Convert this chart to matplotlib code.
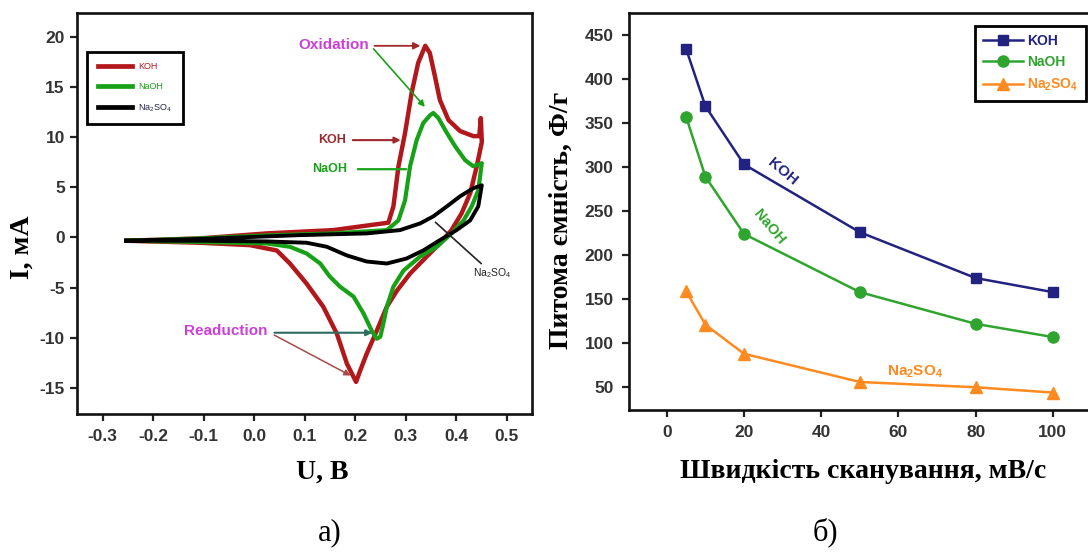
import matplotlib
matplotlib.use("Agg")
import matplotlib.pyplot as plt

plt.rcParams['axes.unicode_minus'] = False
plt.rcParams['mathtext.default'] = 'regular'
plt.rcParams['font.family'] = ['Liberation Sans', 'DejaVu Sans']

# ---------------- data: panel a) cyclic voltammetry ----------------
u_koh = [-0.253, -0.107, 0.025, 0.157, 0.266, 0.276, 0.286, 0.299, 0.312, 0.325, 0.339, 0.348,
         0.358, 0.368, 0.385, 0.408, 0.434, 0.446, 0.449, 0.451, 0.441, 0.428, 0.411, 0.391,
         0.368, 0.342, 0.309, 0.283, 0.263, 0.243, 0.223, 0.210, 0.202, 0.184, 0.164, 0.137,
         0.104, 0.071, 0.045, -0.008, -0.107, -0.253]
i_koh = [-0.33, -0.1, 0.4, 0.73, 1.47, 3.1, 7.1, 10.4, 14.4, 17.4, 19.1, 18.4,
         16.1, 13.7, 11.7, 10.6, 10.1, 10.1, 11.9, 9.5, 7.1, 4.4, 2.4, 0.73,
         -0.6, -1.9, -3.6, -5.3, -6.9, -9.3, -11.6, -13.3, -14.4, -12.6, -9.6, -6.9,
         -4.6, -2.6, -1.3, -0.77, -0.53, -0.33]

u_naoh = [-0.253, -0.107, 0.025, 0.157, 0.263, 0.286, 0.299, 0.309, 0.322, 0.335, 0.349, 0.355,
          0.365, 0.382, 0.398, 0.418, 0.434, 0.451, 0.444, 0.431, 0.415, 0.391, 0.362, 0.329,
          0.296, 0.276, 0.263, 0.256, 0.250, 0.243, 0.233, 0.217, 0.197, 0.170, 0.150, 0.131,
          0.104, 0.071, 0.025, -0.107, -0.253]
i_naoh = [-0.33, -0.1, 0.2, 0.4, 0.73, 1.7, 3.7, 7.1, 9.7, 11.4, 12.2, 12.4,
          11.9, 10.4, 9.1, 7.7, 7.1, 7.4, 4.7, 3.1, 1.7, 0.4, -0.93, -1.9,
          -3.3, -4.9, -6.9, -8.6, -9.9, -10.1, -9.3, -7.6, -5.9, -4.9, -3.9, -2.6,
          -1.6, -0.93, -0.6, -0.45, -0.33]

u_na2so4 = [-0.253, -0.107, 0.091, 0.223, 0.289, 0.329, 0.355, 0.382, 0.408, 0.434, 0.451,
            0.444, 0.428, 0.401, 0.368, 0.335, 0.302, 0.263, 0.223, 0.184, 0.144, 0.104,
            0.025, -0.107, -0.253]
i_na2so4 = [-0.33, -0.15, 0.23, 0.4, 0.73, 1.4, 2.1, 3.1, 4.1, 4.9, 5.2,
            3.1, 1.7, 0.73, -0.27, -1.3, -2.1, -2.6, -2.4, -1.8, -0.93, -0.53,
            -0.4, -0.33, -0.33]

cv_labels = ['KOH', 'NaOH', 'Na$_2$SO$_4$']
cv_xticks = [-0.3, -0.2, -0.1, 0.0, 0.1, 0.2, 0.3, 0.4, 0.5]
cv_yticks = [-15, -10, -5, 0, 5, 10, 15, 20]

# ---------------- data: panel б) specific capacitance ----------------
scan_rate = [5, 10, 20, 50, 80, 100]
cap_koh = [434, 369, 303, 226, 174, 158]
cap_naoh = [357, 289, 224, 158, 122, 107]
cap_na2so4 = [159, 121, 88, 56, 50, 44]
sc_xticks = [0, 20, 40, 60, 80, 100]
sc_yticks = [50, 100, 150, 200, 250, 300, 350, 400, 450]

# ---------------- figure ----------------
W, H = 1088, 553
fig = plt.figure(figsize=(W / 100, H / 100), dpi=100)

def px_axes(l, t, r, b):
    return fig.add_axes([l / W, 1 - b / H, (r - l) / W, (b - t) / H])

red = '#B2171B'
green = '#17A117'
tick_col = '#333333'

def style_axes(ax):
    for s in ax.spines.values():
        s.set_linewidth(1.9)
        s.set_color('#111111')
    ax.tick_params(direction='out', length=5, width=1.6, color='#222222',
                   labelsize=12.5, labelcolor=tick_col)
    for lab in ax.get_xticklabels() + ax.get_yticklabels():
        lab.set_fontweight('bold')

# ---- panel a ----
ax1 = px_axes(77.3, 12.7, 531.8, 414)
ax1.plot(u_koh, i_koh, color=red, lw=3.2, solid_joinstyle='round', label=cv_labels[0])
ax1.plot(u_naoh, i_naoh, color=green, lw=3.0, solid_joinstyle='round', label=cv_labels[1])
ax1.plot(u_na2so4, i_na2so4, color='black', lw=2.8, solid_joinstyle='round', label=cv_labels[2])
ax1.set_xlim(-0.35, 0.55)
ax1.set_ylim(-17.6, 22.4)
ax1.set_xticks(cv_xticks)
ax1.set_xticklabels([f'{v:.1f}' for v in cv_xticks])
ax1.set_yticks(cv_yticks)
ax1.tick_params(axis='y', pad=4)
ax1.tick_params(axis='x', pad=6)
style_axes(ax1)

leg1 = ax1.legend(loc='upper left', bbox_to_anchor=(0.022, 0.903), borderaxespad=0,
                  fontsize=6.5, handlelength=3.8, handletextpad=0.6, labelspacing=1.2,
                  borderpad=1.2, fancybox=False, edgecolor='black', framealpha=1,
                  labelcolor=[red, green, '#222244'])
leg1.get_frame().set_linewidth(2.0)
for ln in leg1.get_lines():
    ln.set_linewidth(3.4)

magenta = '#CC3FD9'
dred = '#A0282C'
ax1.text(0.158, 19.2, 'Oxidation', color=magenta, fontsize=11, fontweight='bold',
         ha='center', va='center')
ax1.annotate('', xy=(0.335, 19.1), xytext=(0.233, 19.1),
             arrowprops=dict(arrowstyle='-|>', color=dred, lw=1.3, mutation_scale=10))
ax1.annotate('', xy=(0.342, 12.8), xytext=(0.233, 19.0),
             arrowprops=dict(arrowstyle='-|>', color=green, lw=1.2, mutation_scale=9))
ax1.text(0.155, 9.7, 'KOH', color=dred, fontsize=9, fontweight='bold', ha='center', va='center')
ax1.annotate('', xy=(0.296, 9.7), xytext=(0.19, 9.7),
             arrowprops=dict(arrowstyle='-|>', color=dred, lw=1.5, mutation_scale=9))
ax1.text(0.150, 6.8, 'NaOH', color=green, fontsize=9, fontweight='bold', ha='center', va='center')
ax1.annotate('', xy=(0.307, 6.8), xytext=(0.20, 6.8),
             arrowprops=dict(arrowstyle='-', color=green, lw=1.6))
ax1.text(-0.056, -9.3, 'Readuction', color=magenta, fontsize=11, fontweight='bold',
         ha='center', va='center')
ax1.annotate('', xy=(0.240, -9.5), xytext=(0.035, -9.5),
             arrowprops=dict(arrowstyle='-|>', color='#2E6B5E', lw=1.5, mutation_scale=9))
ax1.annotate('', xy=(0.196, -13.9), xytext=(0.035, -9.6),
             arrowprops=dict(arrowstyle='-|>', color='#A84A4A', lw=1.1, mutation_scale=9))
ax1.annotate('', xy=(0.355, 1.7), xytext=(0.454, -2.8),
             arrowprops=dict(arrowstyle='-', color='#222222', lw=1.2))
ax1.text(0.471, -3.6, 'Na$_2$SO$_4$', color='#222222', fontsize=7.5, ha='center', va='center')

# ---- panel б ----
navy = '#222280'
sgreen = '#2FA52F'
orange = '#FF8A1F'
ax2 = px_axes(629, 12.7, 1088, 410)
ax2.plot(scan_rate, cap_koh, color=navy, lw=1.8, marker='s', ms=7, label='KOH')
ax2.plot(scan_rate, cap_naoh, color=sgreen, lw=1.8, marker='o', ms=8, label='NaOH')
ax2.plot(scan_rate, cap_na2so4, color=orange, lw=1.8, marker='^', ms=8.5, label='Na$_2$SO$_4$')
ax2.set_xlim(-9.8, 109.1)
ax2.set_ylim(24.2, 475.2)
ax2.set_xticks(sc_xticks)
ax2.set_yticks(sc_yticks)
ax2.spines['right'].set_visible(False)
ax2.tick_params(axis='y', pad=6)
ax2.tick_params(axis='x', pad=6)
style_axes(ax2)

leg2 = ax2.legend(loc='upper left', bbox_to_anchor=(0.7545, 0.9665), borderaxespad=0,
                  fontsize=10, handlelength=2.9, handletextpad=0.25, labelspacing=0.55,
                  borderpad=0.55, fancybox=False, edgecolor='black', framealpha=1,
                  numpoints=1, labelcolor='linecolor', prop={'weight': 'bold', 'size': 10})
leg2.get_frame().set_linewidth(2.0)

ax2.text(30.1, 294.7, 'KOH', color=navy, fontsize=11, fontweight='bold', rotation=-40,
         ha='center', va='center')
ax2.text(26.6, 232.3, 'NaOH', color=sgreen, fontsize=10.5, fontweight='bold', rotation=-50,
         ha='center', va='center')
ax2.text(64.3, 67.7, 'Na$_2$SO$_4$', color=orange, fontsize=11, fontweight='bold',
         ha='center', va='center')

# ---- axis titles and panel captions ----
serif = ['Liberation Serif', 'DejaVu Serif']
def ftext(x, y, s, **kw):
    fig.text(x / W, 1 - y / H, s, family=serif, ha='center', va='center', **kw)

ftext(22, 247, 'I, мА', fontsize=20, fontweight='bold', rotation=90)
ftext(322, 472, 'U, В', fontsize=20, fontweight='bold')
ftext(561, 220, 'Питома ємність, Ф/г', fontsize=20, fontweight='bold', rotation=90)
ftext(863, 472, 'Швидкість сканування, мВ/с', fontsize=20, fontweight='bold')
ftext(330, 533, 'а)', fontsize=22)
ftext(825, 532, 'б)', fontsize=22)

fig.savefig('out.png', dpi=100)
